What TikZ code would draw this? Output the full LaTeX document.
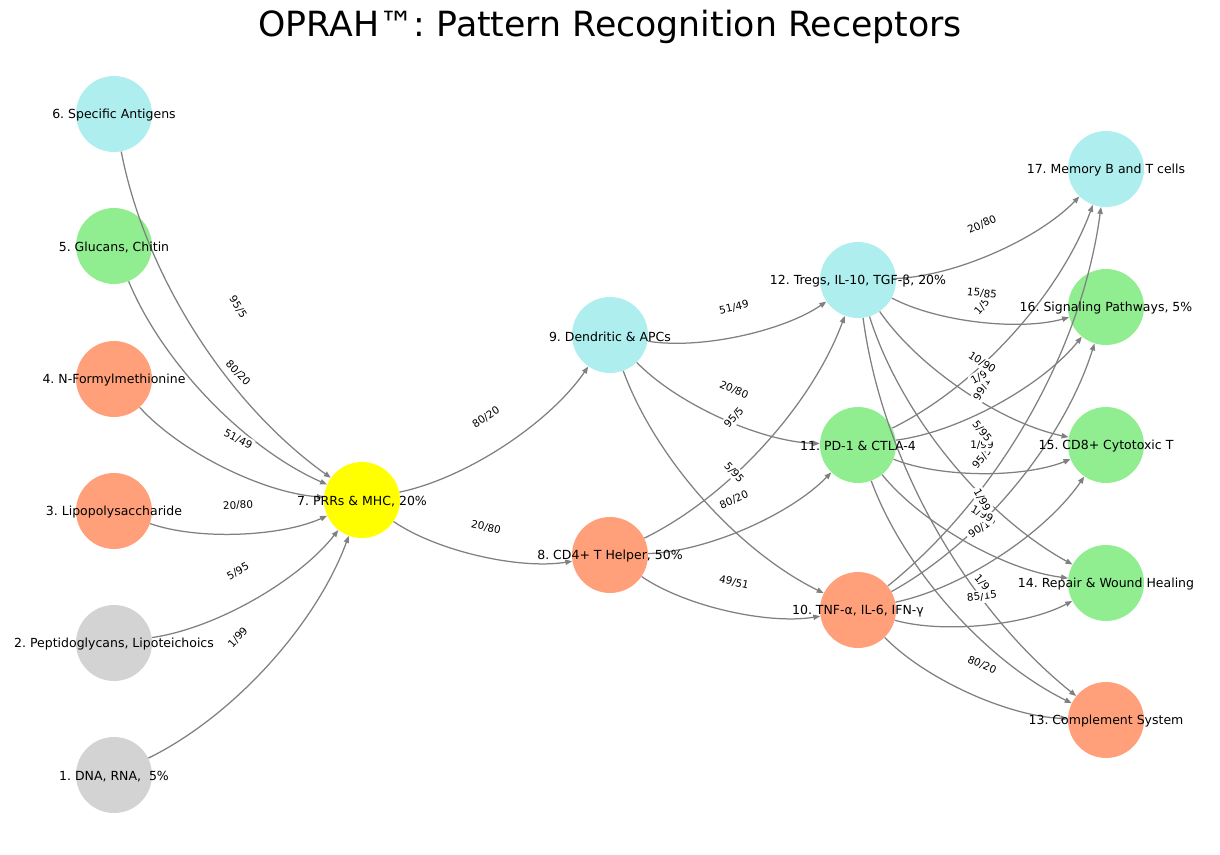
\documentclass[tikz,border=0pt]{standalone}
\usepackage{fontspec}
\setmainfont{DejaVu Sans}
\usetikzlibrary{arrows.meta,calc}
\definecolor{lgray}{HTML}{D3D3D3}
\definecolor{lsalmon}{HTML}{FFA07A}
\definecolor{lgreen}{HTML}{90EE90}
\definecolor{pturq}{HTML}{AFEEEE}
\definecolor{pyellow}{HTML}{FFFF00}
\definecolor{edgegray}{HTML}{808080}
\frenchspacing
\tikzset{
  nd/.style={circle, draw=none, minimum size=54.7pt, inner sep=0pt},
  ntext/.style={font=\fontsize{9}{10}\selectfont, text=black, inner sep=0pt, yshift=-1pt},
  edgeline/.style={draw=edgegray, line width=0.9pt, -{Triangle[length=5pt,width=3.8pt]}},
  elbl/.style={font=\fontsize{7.5}{8}\selectfont, fill=white, inner sep=1.6pt, rounded corners=2pt, text=black},
}
\newcommand\cedge[2]{%
  \path let \p1=(#1.center), \p2=(#2.center) in
    ({(\x1+\x2)/2+0.2*(\y2-\y1)},{(\y1+\y2)/2-0.2*(\x2-\x1)}) coordinate (q);
  \draw[edgeline] (#1) .. controls ($(#1.center)!0.6667!(q)$) and ($(#2.center)!0.6667!(q)$) .. (#2);
}
\newcommand\elab[3]{\path (#1.center) -- (#2.center) node[elbl, midway, sloped] {#3};}
\begin{document}
\begin{tikzpicture}[x=0.72pt, y=-0.72pt]
\useasboundingbox (0,0) rectangle (1220,855);
\fill[white] (0,0) rectangle (1220,855);
\node[font=\fontsize{25}{28}\selectfont] (title) at (610,27) {OPRAH™: Pattern Recognition Receptors};
% circles
\node[nd, fill=lgray]    (n1)  at (114,775) {};
\node[nd, fill=lgray]    (n2)  at (114,643) {};
\node[nd, fill=lsalmon]  (n3)  at (114,511) {};
\node[nd, fill=lsalmon]  (n4)  at (114,379) {};
\node[nd, fill=lgreen]   (n5)  at (114,246) {};
\node[nd, fill=pturq]    (n6)  at (114,114) {};
\node[nd, fill=pyellow]  (n7)  at (362,500) {};
\node[nd, fill=lsalmon]  (n8)  at (610,555) {};
\node[nd, fill=pturq]    (n9)  at (610,335) {};
\node[nd, fill=lsalmon]  (n10) at (858,610) {};
\node[nd, fill=lgreen]   (n11) at (858,445) {};
\node[nd, fill=pturq]    (n12) at (858,280) {};
\node[nd, fill=lsalmon]  (n13) at (1106,720) {};
\node[nd, fill=lgreen]   (n14) at (1106,583) {};
\node[nd, fill=lgreen]   (n15) at (1106,445) {};
\node[nd, fill=lgreen]   (n16) at (1106,307) {};
\node[nd, fill=pturq]    (n17) at (1106,169) {};
% edges
\cedge{n1}{n7}\cedge{n2}{n7}\cedge{n3}{n7}\cedge{n4}{n7}\cedge{n5}{n7}\cedge{n6}{n7}
\cedge{n7}{n8}\cedge{n7}{n9}
\cedge{n8}{n10}\cedge{n8}{n11}\cedge{n8}{n12}
\cedge{n9}{n10}\cedge{n9}{n11}\cedge{n9}{n12}
\cedge{n10}{n13}\cedge{n10}{n14}\cedge{n10}{n15}\cedge{n10}{n16}\cedge{n10}{n17}
\cedge{n11}{n13}\cedge{n11}{n14}\cedge{n11}{n15}\cedge{n11}{n16}\cedge{n11}{n17}
\cedge{n12}{n13}\cedge{n12}{n14}\cedge{n12}{n15}\cedge{n12}{n16}\cedge{n12}{n17}
% edge labels
\elab{n1}{n7}{1/99}\elab{n2}{n7}{5/95}\elab{n3}{n7}{20/80}\elab{n4}{n7}{51/49}
\elab{n5}{n7}{80/20}\elab{n6}{n7}{95/5}
\elab{n7}{n8}{20/80}\elab{n7}{n9}{80/20}
\elab{n8}{n10}{49/51}\elab{n8}{n11}{80/20}\elab{n8}{n12}{95/5}
\elab{n9}{n10}{5/95}\elab{n9}{n11}{20/80}\elab{n9}{n12}{51/49}
\elab{n10}{n13}{80/20}\elab{n10}{n14}{85/15}\elab{n10}{n15}{90/10}\elab{n10}{n16}{95/5}\elab{n10}{n17}{99/1}
\elab{n11}{n13}{1/9}\elab{n11}{n14}{1/99}\elab{n11}{n15}{1/99}\elab{n11}{n16}{1/99}\elab{n11}{n17}{1/5}
\elab{n12}{n13}{1/99}\elab{n12}{n14}{5/95}\elab{n12}{n15}{10/90}\elab{n12}{n16}{15/85}\elab{n12}{n17}{20/80}
% node texts
\node[ntext] (t1)  at (n1)  {1. DNA, RNA,\ \ 5\%};
\node[ntext] (t2)  at (n2)  {2. Peptidoglycans, Lipoteichoics};
\node[ntext] (t3)  at (n3)  {3. Lipopolysaccharide};
\node[ntext] (t4)  at (n4)  {4. N-Formylmethionine};
\node[ntext] (t5)  at (n5)  {5. Glucans, Chitin};
\node[ntext] (t6)  at (n6)  {6. Specific Antigens};
\node[ntext] (t7)  at (n7)  {7. PRRs \& MHC, 20\%};
\node[ntext] (t8)  at (n8)  {8. CD4+ T Helper, 50\%};
\node[ntext] (t9)  at (n9)  {9. Dendritic \& APCs};
\node[ntext] (t10) at (n10) {10. TNF-α, IL-6, IFN-γ};
\node[ntext] (t11) at (n11) {11. PD-1 \& CTLA-4};
\node[ntext] (t12) at (n12) {12. Tregs, IL-10, TGF-β, 20\%};
\node[ntext] (t13) at (n13) {13. Complement System};
\node[ntext] (t14) at (n14) {14. Repair \& Wound Healing};
\node[ntext] (t15) at (n15) {15. CD8+ Cytotoxic T};
\node[ntext] (t16) at (n16) {16. Signaling Pathways, 5\%};
\node[ntext] (t17) at (n17) {17. Memory B and T cells};
\end{tikzpicture}
\end{document}
